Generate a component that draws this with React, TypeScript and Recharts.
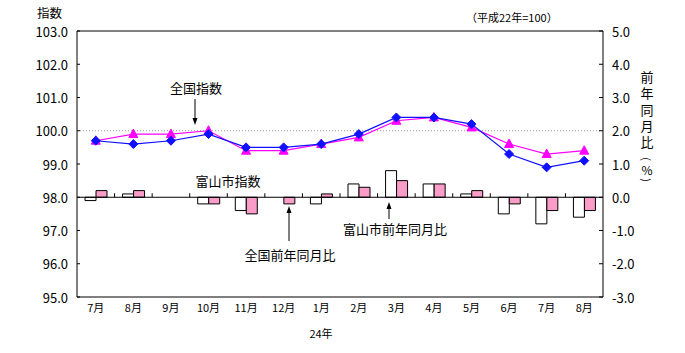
import React from 'react';
import { ComposedChart, Line, Bar, XAxis, YAxis, ReferenceLine, ReferenceArea } from 'recharts';

const months = ['7月', '8月', '9月', '10月', '11月', '12月', '1月', '2月', '3月', '4月', '5月', '6月', '7月', '8月'];
const toyamaIndex = [99.7, 99.6, 99.7, 99.9, 99.5, 99.5, 99.6, 99.9, 100.4, 100.4, 100.2, 99.3, 98.9, 99.1];
const nationalIndex = [99.7, 99.9, 99.9, 100.0, 99.4, 99.4, 99.6, 99.8, 100.3, 100.4, 100.1, 99.6, 99.3, 99.4];
const toyamaYoY = [-0.1, 0.1, 0, -0.2, -0.4, 0, -0.2, 0.4, 0.8, 0.4, 0.1, -0.5, -0.8, -0.6];
const nationalYoY = [0.2, 0.2, 0, -0.2, -0.5, -0.2, 0.1, 0.3, 0.5, 0.4, 0.2, -0.2, -0.4, -0.4];
const leftTicks = [95, 96, 97, 98, 99, 100, 101, 102, 103];
const rightTicks = [-3, -2, -1, 0, 1, 2, 3, 4, 5];

const data = months.map((m, i) => ({
  x: i + 0.5,
  month: m,
  toyamaIndex: toyamaIndex[i],
  nationalIndex: nationalIndex[i],
  toyamaYoY: toyamaYoY[i],
  nationalYoY: nationalYoY[i],
}));
const xTicks = months.map((_, i) => i + 0.5);
const boundaries = months.slice(1).map((_, i) => i + 1);

const FONT = '"Noto Sans CJK JP", "Noto Sans", sans-serif';
const BLUE = '#1010ff';
const MAGENTA = '#ff00ff';
const PINK = '#f99cc8';

const Diamond = (p: any) => {
  const { cx, cy } = p;
  if (cx == null || cy == null) return <g key={p.index} />;
  return (
    <path
      key={p.index}
      d={`M${cx},${cy - 4.5}L${cx + 4.5},${cy}L${cx},${cy + 4.5}L${cx - 4.5},${cy}Z`}
      fill={BLUE}
      stroke={BLUE}
    />
  );
};

const Tri = (p: any) => {
  const { cx, cy } = p;
  if (cx == null || cy == null) return <g key={p.index} />;
  return (
    <path
      key={p.index}
      d={`M${cx},${cy - 5}L${cx + 4.5},${cy + 3.5}L${cx - 4.5},${cy + 3.5}Z`}
      fill={MAGENTA}
      stroke={MAGENTA}
    />
  );
};

const LeftTick = (p: any) => {
  const { x, y, payload } = p;
  return (
    <g>
      <text x={x} y={y} textAnchor="end" dominantBaseline="central" fontSize={13} fill="#000" fontFamily={FONT}>
        {Number(payload.value).toFixed(1)}
      </text>
      <line x1={x + 9} x2={x + 12} y1={y} y2={y} stroke="#000" />
    </g>
  );
};

const RightTick = (p: any) => {
  const { x, y, payload } = p;
  return (
    <g>
      <text x={x} y={y} textAnchor="start" dominantBaseline="central" fontSize={13} fill="#000" fontFamily={FONT}>
        {Number(payload.value).toFixed(1)}
      </text>
      <line x1={x - 9} x2={x - 13} y1={y} y2={y} stroke="#000" />
    </g>
  );
};

const Arrow = ({ x, tipY, tailY }: { x: number; tipY: number; tailY: number }) => {
  const dir = tailY > tipY ? 1 : -1;
  return (
    <g>
      <line x1={x} x2={x} y1={tailY} y2={tipY + dir * 5} stroke="#000" strokeWidth={1} />
      <path d={`M${x},${tipY}L${x + 2.5},${tipY + dir * 7}L${x - 2.5},${tipY + dir * 7}Z`} fill="#000" />
    </g>
  );
};

const rightTitle = '前年同月比';

export default function App() {
  return (
    <div style={{ position: 'absolute', left: 0, top: 0, width: 685, height: 353, background: '#fff', fontFamily: FONT }}>
      <ComposedChart
        width={685}
        height={353}
        data={data}
        margin={{ top: 31, right: 0, left: 0, bottom: 26 }}
        barGap={0}
      >
        <XAxis
          dataKey="x"
          type="number"
          domain={[0, 14]}
          ticks={xTicks}
          interval={0}
          tickFormatter={(v: number) => months[Math.round(v - 0.5)]}
          axisLine={false}
          tickLine={false}
          tickSize={0}
          tickMargin={7}
          height={30}
          tick={{ fontSize: 11, fill: '#000', fontFamily: FONT }}
        />
        <YAxis
          yAxisId="l"
          domain={[95, 103]}
          ticks={leftTicks}
          interval={0}
          width={77}
          axisLine={false}
          tickLine={false}
          tickSize={0}
          tickMargin={9}
          tick={<LeftTick />}
        />
        <YAxis
          yAxisId="r"
          orientation="right"
          domain={[-3, 5]}
          ticks={rightTicks}
          interval={0}
          width={82}
          axisLine={false}
          tickLine={false}
          tickSize={0}
          tickMargin={9}
          tick={<RightTick />}
        />
        <ReferenceLine yAxisId="l" y={100} stroke="#9a9a9a" strokeDasharray="1 2" />
        <ReferenceLine yAxisId="r" y={0} stroke="#000" />
        {boundaries.map((b) => (
          <ReferenceLine
            key={b}
            yAxisId="r"
            segment={[
              { x: b, y: 0 },
              { x: b, y: 0.12 },
            ]}
            stroke="#000"
          />
        ))}
        <Bar yAxisId="r" dataKey="toyamaYoY" fill="#ffffff" stroke="#000" strokeWidth={1} barSize={11} isAnimationActive={false} />
        <Bar yAxisId="r" dataKey="nationalYoY" fill={PINK} stroke="#000" strokeWidth={1} barSize={11} isAnimationActive={false} />
        <Line
          yAxisId="l"
          dataKey="nationalIndex"
          stroke={MAGENTA}
          strokeWidth={1.2}
          dot={(p: any) => <Tri key={p.index} {...p} />}
          activeDot={false}
          isAnimationActive={false}
        />
        <Line
          yAxisId="l"
          dataKey="toyamaIndex"
          stroke={BLUE}
          strokeWidth={1.2}
          dot={(p: any) => <Diamond key={p.index} {...p} />}
          activeDot={false}
          isAnimationActive={false}
        />
        <ReferenceArea
          yAxisId="l"
          x1={0}
          x2={14}
          y1={95}
          y2={103}
          fill="none"
          fillOpacity={0}
          stroke="#000"
          strokeWidth={1}
          ifOverflow="visible"
        />
      </ComposedChart>
      <svg
        width={685}
        height={353}
        style={{ position: 'absolute', left: 0, top: 0, pointerEvents: 'none' }}
        fontFamily={FONT}
      >
        <text x={37} y={12.5} fontSize={12.5} dominantBaseline="central" fill="#000">指数</text>
        <text x={466} y={17} fontSize={11} dominantBaseline="central" fill="#000">（平成22年=100）</text>
        <text x={321} y={333} fontSize={11} textAnchor="middle" dominantBaseline="central" fill="#000">24年</text>
        <text
          x={647}
          y={70.5}
          fontSize={13}
          fill="#000"
          style={{ writingMode: 'vertical-rl', letterSpacing: '3.3px' } as any}
        >
          {rightTitle}
        </text>
        <text x={647} y={169.5} fontSize={12} textAnchor="middle" dominantBaseline="central" fill="#000">%</text>
        <text x={647} y={159} fontSize={11} textAnchor="middle" dominantBaseline="central" fill="#000" transform="rotate(90 647 159)">(</text>
        <text x={647} y={180} fontSize={11} textAnchor="middle" dominantBaseline="central" fill="#000" transform="rotate(90 647 180)">)</text>

        <text x={196} y={87} fontSize={13} textAnchor="middle" dominantBaseline="central" fill="#000">全国指数</text>
        <Arrow x={195} tipY={125} tailY={99} />

        <text x={228} y={180} fontSize={13} textAnchor="middle" dominantBaseline="central" fill="#000">富山市指数</text>

        <text x={290} y={254} fontSize={13} textAnchor="middle" dominantBaseline="central" fill="#000">全国前年同月比</text>
        <Arrow x={289} tipY={206} tailY={241} />

        <text x={395} y={228} fontSize={13} textAnchor="middle" dominantBaseline="central" fill="#000">富山市前年同月比</text>
        <Arrow x={389} tipY={202} tailY={219} />
      </svg>
    </div>
  );
}
